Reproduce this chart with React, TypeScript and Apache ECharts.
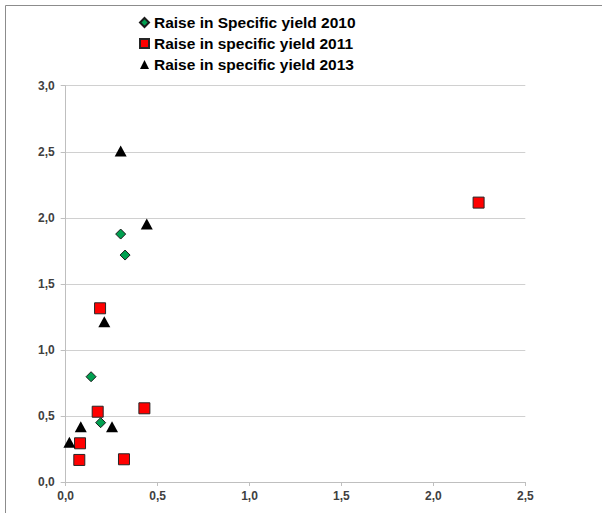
import React, { useEffect, useRef } from "react";
import * as echarts from "echarts";

const seriesNames = [
  "Raise in Specific yield 2010",
  "Raise in specific yield 2011",
  "Raise in specific yield 2013",
];

const data2010: [number, number][] = [
  [0.138, 0.797],
  [0.19, 0.449],
  [0.299, 1.877],
  [0.323, 1.718],
];

const data2011: [number, number][] = [
  [0.187, 1.315],
  [0.174, 0.532],
  [0.428, 0.558],
  [0.078, 0.293],
  [0.074, 0.167],
  [0.317, 0.172],
  [2.246, 2.115],
];

const data2013: [number, number][] = [
  [0.299, 2.505],
  [0.441, 1.953],
  [0.21, 1.213],
  [0.082, 0.419],
  [0.252, 0.419],
  [0.02, 0.3],
];

const fmt = (v: number) => v.toFixed(1).replace(".", ",");

export default function App() {
  const ref = useRef<HTMLDivElement>(null);
  useEffect(() => {
    if (!ref.current) return;
    const chart = echarts.init(ref.current, null, { renderer: "svg" });
    const labelStyle = {
      color: "#404040",
      fontFamily: "Liberation Sans",
      fontWeight: "bold" as const,
      fontSize: 12,
    };
    chart.setOption({
      animation: false,
      backgroundColor: "#ffffff",
      grid: { left: 65.7, right: 76.7, top: 85.7, bottom: 31, containLabel: false },
      legend: {
        orient: "vertical",
        left: 134,
        top: 9,
        itemWidth: 9,
        itemHeight: 9,
        itemGap: 4,
        textStyle: {
          color: "#000",
          fontFamily: "Liberation Sans",
          fontWeight: "bold",
          fontSize: 15.5,
          lineHeight: 17,
        },
        data: [
          { name: seriesNames[0], icon: "diamond" },
          { name: seriesNames[1], icon: "rect" },
          { name: seriesNames[2], icon: "triangle" },
        ],
      },
      xAxis: {
        type: "value",
        min: 0,
        max: 2.5,
        interval: 0.5,
        axisLine: { show: true, lineStyle: { color: "#bfbfbf", width: 1 } },
        axisTick: { show: true, length: 4, lineStyle: { color: "#bfbfbf" } },
        splitLine: { show: false },
        axisLabel: { ...labelStyle, margin: 8, formatter: fmt },
      },
      yAxis: {
        type: "value",
        min: 0,
        max: 3,
        interval: 0.5,
        axisLine: { show: true, lineStyle: { color: "#bfbfbf", width: 1 } },
        axisTick: { show: true, length: 5, lineStyle: { color: "#bfbfbf" } },
        splitLine: { show: true, lineStyle: { color: "#d0d0d0", width: 1 } },
        axisLabel: { ...labelStyle, margin: 11, formatter: fmt },
      },
      series: [
        {
          name: seriesNames[0],
          type: "scatter",
          symbol: "diamond",
          symbolSize: 10,
          data: data2010,
          itemStyle: { color: "#00a050", borderColor: "#1a1a1a", borderWidth: 1, opacity: 1 },
        },
        {
          name: seriesNames[1],
          type: "scatter",
          symbol: "rect",
          symbolSize: 11,
          data: data2011,
          itemStyle: { color: "#ff0000", borderColor: "#262626", borderWidth: 1, opacity: 1 },
        },
        {
          name: seriesNames[2],
          type: "scatter",
          symbol: "triangle",
          symbolSize: [12, 11],
          data: data2013,
          itemStyle: { color: "#000000", opacity: 1 },
        },
      ],
      graphic: [
        {
          type: "line",
          shape: { x1: 5.5, y1: 5.5, x2: 5.5, y2: 513 },
          style: { stroke: "#8c8c8c", lineWidth: 1 },
          silent: true,
        },
        {
          type: "line",
          shape: { x1: 5.5, y1: 5.5, x2: 602, y2: 5.5 },
          style: { stroke: "#8c8c8c", lineWidth: 1 },
          silent: true,
        },
      ],
    });
    return () => chart.dispose();
  }, []);
  return (
    <div
      ref={ref}
      style={{ position: "fixed", left: 0, top: 0, width: 602, height: 513 }}
    />
  );
}
